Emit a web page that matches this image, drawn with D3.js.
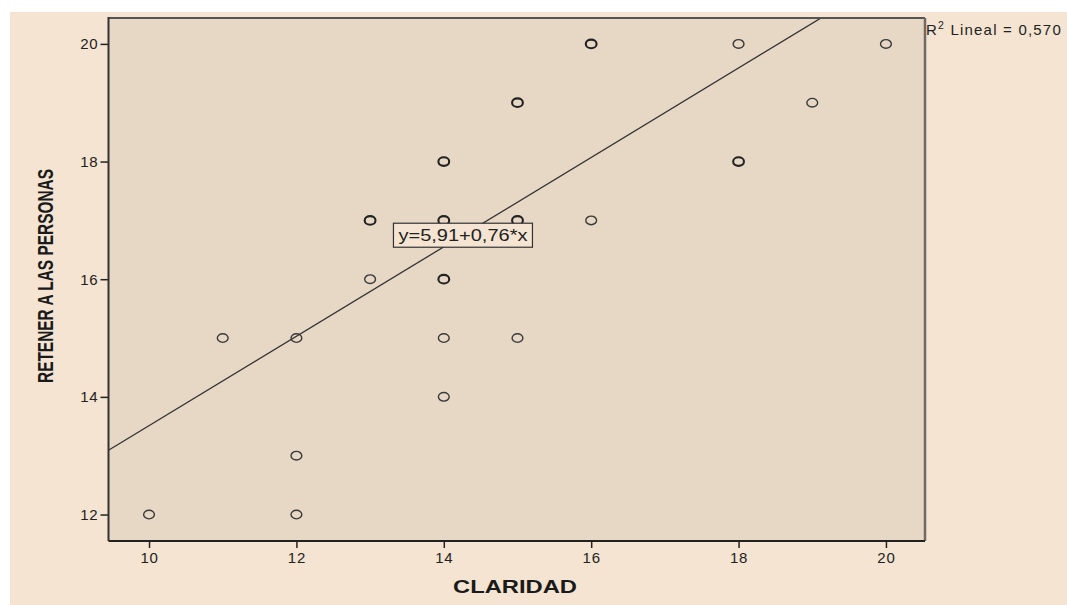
<!DOCTYPE html>
<html>
<head>
<meta charset="utf-8">
<script src="https://cdn.jsdelivr.net/npm/d3@7"></script>
<style>
  html, body { margin: 0; padding: 0; background: #ffffff; }
  svg { display: block; }
</style>
</head>
<body>
<svg id="chart" width="1067" height="605"></svg>
<script>
// Observations: CLARIDAD (x) vs RETENER A LAS PERSONAS (y); repeated pairs appear once per case
const claridad = [10, 12, 12, 12, 11, 13, 13, 13, 14, 14, 14, 14, 14, 14, 14, 14, 14, 15, 15, 15, 15, 15, 16, 16, 16, 18, 18, 18, 19, 20];
const retener  = [12, 12, 13, 15, 15, 16, 17, 17, 14, 15, 16, 16, 17, 17, 18, 18, 17, 15, 17, 17, 19, 19, 17, 20, 20, 18, 18, 20, 19, 20];

const xTicks = [10, 12, 14, 16, 18, 20];
const yTicks = [12, 14, 16, 18, 20];

// Linear fit shown on the chart
const intercept = 5.91;
const slope = 0.76;
const r2 = "0,570";
const equationLabel = "y=5,91+0,76*x";
const equationAtX = 14.26;

const xTitle = "CLARIDAD";
const yTitle = "RETENER A LAS PERSONAS";

const svg = d3.select("#chart");
const W = 1067, H = 605;
const plot = { left: 108.5, top: 18, right: 925, bottom: 541 };

// outer panel
svg.append("rect").attr("x", 10).attr("y", 12).attr("width", W - 10).attr("height", H - 12)
  .attr("fill", "#f4e4d1");

const x = d3.scaleLinear().domain([9.45, 20.53]).range([plot.left, plot.right]);
const y = d3.scaleLinear().domain([11.55, 20.44]).range([plot.bottom, plot.top]);

// plot area
svg.append("rect")
  .attr("x", plot.left).attr("y", plot.top)
  .attr("width", plot.right - plot.left).attr("height", plot.bottom - plot.top)
  .attr("fill", "#e7d7c5");

svg.append("clipPath").attr("id", "clip").append("rect")
  .attr("x", plot.left).attr("y", plot.top)
  .attr("width", plot.right - plot.left).attr("height", plot.bottom - plot.top);

// regression line
const [x0, x1] = x.domain();
svg.append("line")
  .attr("clip-path", "url(#clip)")
  .attr("x1", x(x0)).attr("y1", y(intercept + slope * x0))
  .attr("x2", x(x1)).attr("y2", y(intercept + slope * x1))
  .attr("stroke", "#333").attr("stroke-width", 1.3);

// points: stroke weight grows with the number of coincident cases
const counts = d3.rollups(d3.range(claridad.length), v => v.length, i => claridad[i] + "|" + retener[i]);
svg.append("g").selectAll("ellipse").data(counts).join("ellipse")
  .attr("cx", d => x(+d[0].split("|")[0]))
  .attr("cy", d => y(+d[0].split("|")[1]))
  .attr("rx", 5.4).attr("ry", 4.3)
  .attr("fill", "none")
  .attr("stroke", d => d[1] > 1 ? "#222" : "#3a3a3a")
  .attr("stroke-width", d => d[1] > 1 ? 2.1 : 1.4);

const fontAxis = "Liberation Sans, Arial, sans-serif";

// equation label box
const eqG = svg.append("g")
  .attr("transform", `translate(${x(equationAtX)},${y(intercept + slope * equationAtX)})`);
eqG.append("rect")
  .attr("x", -69.5).attr("y", -12).attr("width", 139).attr("height", 24)
  .attr("fill", "#f4e4d1").attr("stroke", "#333").attr("stroke-width", 1.2);
eqG.append("text")
  .attr("text-anchor", "middle").attr("dy", "0.37em")
  .attr("font-family", fontAxis).attr("font-size", 16.5)
  .attr("textLength", 129).attr("lengthAdjust", "spacingAndGlyphs")
  .attr("fill", "#222").text(equationLabel);

// frame
svg.append("line").attr("x1", plot.left).attr("x2", plot.right).attr("y1", plot.top).attr("y2", plot.top)
  .attr("stroke", "#555").attr("stroke-width", 2);
svg.append("line").attr("x1", plot.right).attr("x2", plot.right).attr("y1", plot.top).attr("y2", plot.bottom)
  .attr("stroke", "#6f6a64").attr("stroke-width", 2.5);

// axes
const xAxis = svg.append("g").attr("transform", `translate(0,${plot.bottom})`)
  .call(d3.axisBottom(x).tickValues(xTicks).tickSize(7).tickPadding(4).tickSizeOuter(0));
const yAxis = svg.append("g").attr("transform", `translate(${plot.left},0)`)
  .call(d3.axisLeft(y).tickValues(yTicks).tickSize(8).tickPadding(2).tickSizeOuter(0));
[xAxis, yAxis].forEach(a => {
  a.select(".domain").remove();
  a.selectAll(".tick line").attr("stroke", "#222").attr("stroke-width", 1.5);
  a.selectAll("text").attr("font-family", fontAxis).attr("font-size", 15).attr("fill", "#222")
    .attr("letter-spacing", "0.8px");
});
svg.append("line").attr("x1", plot.left).attr("x2", plot.right).attr("y1", plot.bottom).attr("y2", plot.bottom)
  .attr("stroke", "#222").attr("stroke-width", 2);
svg.append("line").attr("x1", plot.left).attr("x2", plot.left).attr("y1", plot.top - 1).attr("y2", plot.bottom)
  .attr("stroke", "#333").attr("stroke-width", 2);

// axis titles
svg.append("text")
  .attr("x", 515).attr("y", 593)
  .attr("text-anchor", "middle")
  .attr("font-family", fontAxis).attr("font-weight", "bold").attr("font-size", 19)
  .attr("textLength", 124).attr("lengthAdjust", "spacingAndGlyphs")
  .attr("fill", "#1a1a1a")
  .text(xTitle);

svg.append("text")
  .attr("transform", `translate(53,276) rotate(-90)`)
  .attr("text-anchor", "middle")
  .attr("font-family", "Liberation Sans Narrow, Arial Narrow, Liberation Sans, sans-serif")
  .attr("font-weight", "bold").attr("font-size", 22.5)
  .attr("textLength", 214).attr("lengthAdjust", "spacingAndGlyphs")
  .attr("fill", "#1a1a1a")
  .text(yTitle);

// R² annotation
const r2Text = svg.append("text")
  .attr("x", 926).attr("y", 35)
  .attr("font-family", fontAxis).attr("font-size", 15).attr("fill", "#222")
  .attr("letter-spacing", "1.2px");
r2Text.append("tspan").text("R");
r2Text.append("tspan").attr("font-size", 10.5).attr("dy", -6).text("2");
r2Text.append("tspan").attr("dy", 6).text(" Lineal = " + r2);
</script>
</body>
</html>
